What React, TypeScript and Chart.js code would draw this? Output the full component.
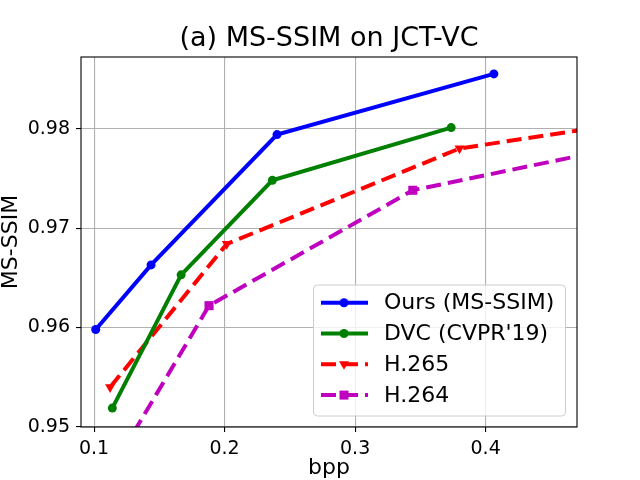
import { useEffect, useRef } from 'react'
import { Chart, registerables } from 'chart.js'

Chart.register(...registerables)

const FONT = "'DejaVu Sans', sans-serif"

// values (bpp, MS-SSIM)
const oursX = [0.1013, 0.1437, 0.2402, 0.4063]
const oursY = [0.9598, 0.9663, 0.9794, 0.9855]
const dvcX = [0.114, 0.1667, 0.2366, 0.3736]
const dvcY = [0.9519, 0.9653, 0.9748, 0.9801]
const h265X = [0.1123, 0.2017, 0.38, 0.55]
const h265Y = [0.954, 0.9684, 0.978, 0.9814]
const h264X = [0.1215, 0.1881, 0.3442, 0.55]
const h264Y = [0.9475, 0.9622, 0.9738, 0.9794]

const xTicks = [0.1, 0.2, 0.3, 0.4]
const xTickLabels = ['0.1', '0.2', '0.3', '0.4']
const yTicks = [0.95, 0.96, 0.97, 0.98]
const yTickLabels = ['0.95', '0.96', '0.97', '0.98']

const seriesNames = ['Ours (MS-SSIM)', "DVC (CVPR'19)", 'H.265', 'H.264']

const toPoints = (xs: number[], ys: number[]) => xs.map((x, i) => ({ x, y: ys[i] }))

const drawMarker = (ctx: CanvasRenderingContext2D, style: string, x: number, y: number, color: string) => {
  ctx.fillStyle = color
  ctx.beginPath()
  if (style === 'circle') {
    ctx.arc(x, y, 4.5, 0, Math.PI * 2)
  } else if (style === 'triangle') {
    ctx.moveTo(x, y + 5.5)
    ctx.lineTo(x - 5, y - 3)
    ctx.lineTo(x + 5, y - 3)
    ctx.closePath()
  } else {
    ctx.rect(x - 4.5, y - 4.5, 9, 9)
  }
  ctx.fill()
}

const framePlugin = {
  id: 'frame',
  afterDatasetsDraw(chart: Chart) {
    const { ctx, chartArea } = chart
    ctx.save()
    ctx.strokeStyle = '#000'
    ctx.lineWidth = 1.1
    ctx.strokeRect(chartArea.left, chartArea.top, chartArea.right - chartArea.left, chartArea.bottom - chartArea.top)
    ctx.restore()
  },
}

const legendPlugin = {
  id: 'boxLegend',
  afterDraw(chart: Chart) {
    const { ctx } = chart
    const left = 313.5
    const top = 285
    const w = 252
    const h = 131
    ctx.save()
    ctx.fillStyle = 'rgba(255,255,255,0.8)'
    ctx.strokeStyle = '#cccccc'
    ctx.lineWidth = 1
    ctx.beginPath()
    ctx.roundRect(left, top, w, h, 4)
    ctx.fill()
    ctx.stroke()
    ctx.font = `22px ${FONT}`
    ctx.textBaseline = 'middle'
    chart.data.datasets.forEach((ds: any, i: number) => {
      const y = 302.7 + i * 30.8
      ctx.strokeStyle = ds.borderColor
      ctx.lineWidth = 4
      ctx.setLineDash(ds.borderDash || [])
      ctx.beginPath()
      ctx.moveTo(321, y)
      ctx.lineTo(368, y)
      ctx.stroke()
      ctx.setLineDash([])
      drawMarker(ctx, ds.legendMarker, 344, y, ds.borderColor)
      ctx.fillStyle = '#000'
      ctx.fillText(seriesNames[i], 384, y + 1)
    })
    ctx.restore()
  },
}

const App = () => {
  const canvasRef = useRef<HTMLCanvasElement>(null)
  const chartRef = useRef<Chart | null>(null)

  useEffect(() => {
    if (!canvasRef.current) return
    Chart.defaults.font.family = FONT
    Chart.defaults.color = '#000'

    chartRef.current = new Chart(canvasRef.current, {
      type: 'scatter',
      data: {
        datasets: [
          {
            label: seriesNames[0],
            data: toPoints(oursX, oursY),
            borderColor: '#0000ff',
            backgroundColor: '#0000ff',
            pointStyle: 'circle',
            pointRadius: 4.5,
            legendMarker: 'circle',
          },
          {
            label: seriesNames[1],
            data: toPoints(dvcX, dvcY),
            borderColor: '#008000',
            backgroundColor: '#008000',
            pointStyle: 'circle',
            pointRadius: 4.5,
            legendMarker: 'circle',
          },
          {
            label: seriesNames[2],
            data: toPoints(h265X, h265Y),
            borderColor: '#ff0000',
            backgroundColor: '#ff0000',
            borderDash: [15, 7],
            pointStyle: 'triangle',
            pointRotation: 180,
            pointRadius: 5.8,
            legendMarker: 'triangle',
          },
          {
            label: seriesNames[3],
            data: toPoints(h264X, h264Y),
            borderColor: '#bf00bf',
            backgroundColor: '#bf00bf',
            borderDash: [15, 7],
            pointStyle: 'rect',
            pointRadius: 6.4,
            legendMarker: 'rect',
          },
        ].map((ds) => ({
          ...ds,
          showLine: true,
          borderWidth: 4,
          pointBorderWidth: 0,
          pointHoverRadius: 0,
          clip: 0,
        })) as any,
      },
      options: {
        animation: false,
        responsive: false,
        events: [],
        layout: { padding: { left: 0, right: 63, top: 0, bottom: 0 } },
        scales: {
          x: {
            type: 'linear',
            min: 0.09,
            max: 0.47,
            afterBuildTicks: (scale: any) => {
              scale.ticks = xTicks.map((value) => ({ value }))
            },
            afterFit: (scale: any) => {
              scale.height = 53
            },
            ticks: {
              callback: (_v: any, i: number) => xTickLabels[i],
              font: { size: 19 },
              color: '#000',
              padding: 6,
              maxRotation: 0,
            },
            grid: { color: '#b0b0b0', lineWidth: 1.1, tickColor: '#000', tickLength: 5, tickWidth: 1.1 },
            border: { display: false },
            title: {
              display: true,
              text: 'bpp',
              font: { size: 22, lineHeight: 1 },
              color: '#000',
              padding: { top: 0, bottom: 1 },
            },
          },
          y: {
            type: 'linear',
            min: 0.95,
            max: 0.9872,
            afterBuildTicks: (scale: any) => {
              scale.ticks = yTicks.map((value) => ({ value }))
            },
            afterFit: (scale: any) => {
              scale.width = 81
            },
            ticks: {
              callback: (_v: any, i: number) => yTickLabels[i],
              font: { size: 19 },
              color: '#000',
              padding: 6,
            },
            grid: { color: '#b0b0b0', lineWidth: 1.1, tickColor: '#000', tickLength: 5, tickWidth: 1.1 },
            border: { display: false },
            title: {
              display: true,
              text: 'MS-SSIM',
              font: { size: 22, lineHeight: 1 },
              color: '#000',
              padding: { top: 0, bottom: 0 },
            },
          },
        },
        plugins: {
          legend: { display: false },
          tooltip: { enabled: false },
          title: {
            display: true,
            fullSize: false,
            text: '(a) MS-SSIM on JCT-VC',
            font: { size: 27, weight: 'normal', lineHeight: 1.2 },
            color: '#000',
            padding: { top: 23, bottom: 1.6 },
          },
        },
      },
      plugins: [framePlugin, legendPlugin],
    })

    return () => {
      if (chartRef.current) {
        chartRef.current.destroy()
        chartRef.current = null
      }
    }
  }, [])

  return (
    <div style={{ position: 'absolute', left: 0, top: 0, width: 640, height: 480, background: '#fff' }}>
      <canvas ref={canvasRef} width={640} height={480}></canvas>
    </div>
  )
}

export default App
